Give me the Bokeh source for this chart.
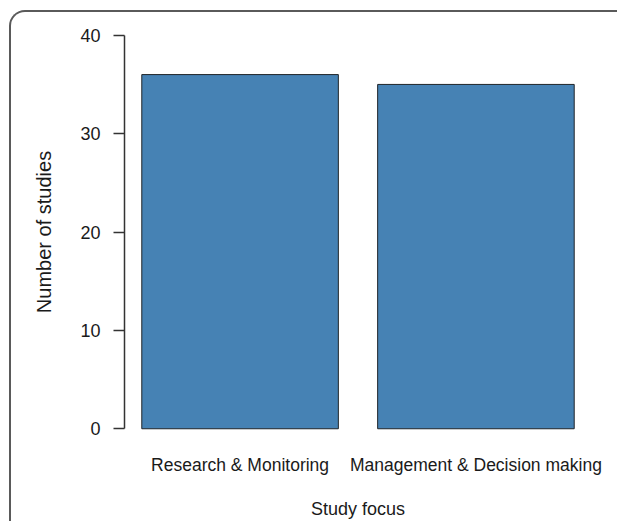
from bokeh.plotting import figure
from bokeh.models import Range1d, FixedTicker, LinearAxis, ColumnDataSource, InlineStyleSheet
from bokeh.embed import file_html
from bokeh.resources import INLINE

# ---- data ----
categories = ["Research & Monitoring", "Management & Decision making"]
counts = [36, 35]
y_ticks = [0, 10, 20, 30, 40]
x_title = "Study focus"
y_title = "Number of studies"

# R barplot geometry: width 1, space 0.2
bar_width = 1.0
space = 0.2
centers = [space + i * (bar_width + space) + bar_width / 2 for i in range(len(categories))]
left_edge = space
right_edge = space + len(categories) * (bar_width + space) - space
pad_x = 0.04 * (right_edge - left_edge)
pad_y = 0.04 * (max(y_ticks) - min(y_ticks))

FONT = "Liberation Sans"
TEXT = "#1a1a1a"

p = figure(
    width=617, height=521,
    x_range=Range1d(left_edge - pad_x, right_edge + pad_x),
    y_range=Range1d(min(y_ticks) - pad_y, max(y_ticks) + pad_y),
    output_backend="svg", toolbar_location=None,
    x_axis_location=None, y_axis_location=None,
    min_border_left=124, min_border_right=26,
    min_border_top=19, min_border_bottom=76,
)
p.grid.visible = False
p.outline_line_color = None
p.background_fill_color = "white"
p.border_fill_color = "white"

# panel border (rounded top-left corner, runs off right/bottom edges)
p.stylesheets = [InlineStyleSheet(css="""
:host { position: relative; }
:host::after {
  content: "";
  position: absolute;
  left: 9px; top: 10px; right: 0px; bottom: 0px;
  border-top: 2px solid #5a5a5a;
  border-left: 2px solid #5a5a5a;
  border-top-left-radius: 16px;
  pointer-events: none;
  z-index: 10;
}
""")]

src = ColumnDataSource(dict(x=centers, top=counts, cat=categories))
p.vbar(x="x", top="top", bottom=0, width=bar_width, source=src,
       fill_color="#4682B4", line_color="#1f2428", line_width=1)

# y axis (R style, spans 0..40)
yax = LinearAxis(
    ticker=FixedTicker(ticks=y_ticks),
    bounds=(min(y_ticks), max(y_ticks)),
    axis_label=y_title,
    axis_label_standoff=22,
    axis_label_text_font=FONT,
    axis_label_text_font_size="20px",
    axis_label_text_font_style="normal",
    axis_label_text_color=TEXT,
    major_label_text_font=FONT,
    major_label_text_font_size="18px",
    major_label_text_color=TEXT,
    major_label_standoff=13,
    major_label_orientation="horizontal",
    major_tick_in=0, major_tick_out=11,
    minor_tick_line_color=None,
    axis_line_color="#333333", axis_line_width=1.5,
    major_tick_line_color="#333333", major_tick_line_width=1.5,
)
p.add_layout(yax, "left")

# x axis: category names, no line, no ticks
xax = LinearAxis(
    ticker=FixedTicker(ticks=centers),
    major_label_overrides={c: name for c, name in zip(centers, categories)},
    axis_label=x_title,
    axis_label_standoff=21,
    axis_label_text_font=FONT,
    axis_label_text_font_size="18px",
    axis_label_text_font_style="normal",
    axis_label_text_color=TEXT,
    major_label_text_font=FONT,
    major_label_text_font_size="17.5px",
    major_label_text_color=TEXT,
    major_label_standoff=10,
    major_tick_in=0, major_tick_out=0,
    minor_tick_line_color=None,
    axis_line_color=None,
    major_tick_line_color=None,
)
p.add_layout(xax, "below")

open("out.html", "w").write(file_html(p, INLINE))
